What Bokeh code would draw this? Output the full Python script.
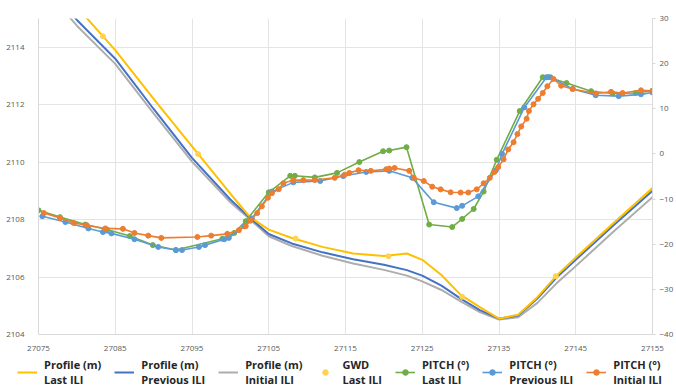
from bokeh.plotting import figure
from bokeh.layouts import column, row
from bokeh.models import Range1d, LinearAxis, Legend, LegendItem, FixedTicker
from bokeh.embed import file_html
from bokeh.resources import INLINE

# ---- data ----
prof_x = [27075, 27080, 27085, 27090, 27095, 27100, 27102.5, 27105, 27108, 27112, 27116,
          27120, 27123, 27125, 27127.5, 27130, 27132.5, 27135, 27137.5, 27140, 27142.5,
          27145, 27150, 27155]
prof_last = [2117.0, 2115.4, 2113.9, 2112.2, 2110.55, 2108.9, 2108.1, 2107.65, 2107.36, 2107.05,
             2106.82, 2106.73, 2106.82, 2106.6, 2106.07, 2105.38, 2104.95, 2104.55, 2104.69,
             2105.3, 2106.05, 2106.68, 2107.9, 2109.1]
prof_prev = [2116.6, 2114.95, 2113.6, 2111.85, 2110.15, 2108.7, 2108.07, 2107.5, 2107.17, 2106.86,
             2106.62, 2106.43, 2106.24, 2106.05, 2105.7, 2105.25, 2104.85, 2104.55, 2104.66,
             2105.25, 2105.98, 2106.6, 2107.82, 2109.0]
prof_init = [2116.3, 2114.75, 2113.42, 2111.7, 2110.02, 2108.6, 2108.02, 2107.42, 2107.08, 2106.74,
             2106.47, 2106.25, 2106.05, 2105.85, 2105.55, 2105.15, 2104.78, 2104.52, 2104.6,
             2105.1, 2105.78, 2106.38, 2107.6, 2108.78]

gwd_x = [27083.4, 27095.8, 27108.5, 27120.6, 27130.2, 27142.4]
gwd_y = [2114.38, 2110.28, 2107.34, 2106.72, 2105.31, 2106.03]

pitch_last_x = [27075.0, 27077.8, 27081.1, 27083.9, 27086.9, 27089.9, 27092.9, 27098.95, 27100.5,
                27102.0, 27105.0, 27107.8, 27108.4, 27111.0, 27113.9, 27116.8, 27119.9, 27120.7,
                27122.95, 27125.9, 27128.9, 27130.2, 27131.7, 27133.0, 27134.7, 27137.7, 27140.7,
                27141.4, 27143.8, 27147.0, 27149.8, 27152.8, 27155.0]
pitch_last = [-12.5, -14.0, -15.65, -16.75, -18.2, -20.2, -21.3, -18.8, -17.5,
              -14.9, -8.5, -4.85, -4.85, -5.2, -4.2, -1.8, 0.6, 0.75,
              1.5, -15.65, -16.2, -14.4, -12.2, -8.35, -1.3, 9.5, 17.0,
              17.0, 15.7, 13.9, 13.4, 13.5, 14.0]

pitch_prev_x = [27075.5, 27078.5, 27081.5, 27083.4, 27084.5, 27087.5, 27090.6, 27092.9, 27093.7,
                27095.9, 27096.7, 27099.2, 27099.8, 27101.8, 27102.8, 27105.4, 27108.2, 27111.7,
                27114.7, 27117.7, 27120.7, 27123.7, 27126.5, 27129.5, 27130.2, 27132.3, 27134.6,
                27135.4, 27138.3, 27141.2, 27141.7, 27144.6, 27147.6, 27150.6, 27153.5, 27155.0]
pitch_prev = [-13.8, -15.1, -16.5, -17.3, -17.6, -18.9, -20.6, -21.3, -21.3,
              -20.6, -20.2, -18.9, -18.6, -16.0, -14.3, -8.35, -6.3, -6.0,
              -4.9, -4.0, -3.75, -5.3, -10.7, -12.0, -11.5, -9.4, -3.6,
              0.0, 10.3, 17.0, 17.0, 14.4, 13.0, 12.8, 13.2, 13.6]

pitch_init_x = [27075.7, 27077.8, 27079.6, 27081.3, 27083.7, 27086.0, 27087.5, 27089.3, 27091.0,
                27095.7, 27097.5, 27099.6, 27101.1, 27102.0, 27102.6, 27103.5, 27104.1, 27104.9,
                27105.4, 27106.3, 27106.9, 27108.2, 27109.5, 27111.0, 27113.6, 27114.9, 27115.5,
                27116.7, 27118.3, 27120.3, 27120.7, 27121.4, 27123.3, 27123.9, 27125.2, 27126.3,
                27127.4, 27128.7, 27130.0, 27131.0, 27132.1, 27133.0, 27133.8, 27134.4, 27134.9,
                27135.6, 27136.2, 27136.9, 27137.4, 27137.9, 27138.6, 27138.9, 27139.5, 27140.1,
                27140.7, 27141.3, 27142.1, 27143.1, 27144.6, 27147.6, 27149.6, 27151.1, 27153.5,
                27155.0]
pitch_init = [-13.1, -14.2, -15.3, -15.8, -16.5, -16.6, -17.5, -18.1, -18.6,
              -18.4, -18.1, -17.7, -16.9, -16.0, -14.8, -13.1, -11.6, -9.7,
              -8.7, -7.8, -6.5, -5.8, -5.8, -5.8, -5.3, -4.6, -4.2,
              -3.6, -3.75, -3.4, -3.25, -3.1, -3.75, -5.3, -6.0, -7.25,
              -7.85, -8.5, -8.55, -8.55, -7.85, -6.5, -5.3, -4.0, -2.9,
              -1.2, 1.0, 2.6, 4.4, 6.1, 7.8, 9.5, 11.0, 12.2,
              13.5, 15.0, 16.6, 15.1, 14.4, 13.4, 13.75, 13.5, 14.1,
              14.0]

x_ticks = [27075, 27085, 27095, 27105, 27115, 27125, 27135, 27145, 27155]
left_ticks = [2104, 2106, 2108, 2110, 2112, 2114]
right_ticks = [-40, -30, -20, -10, 0, 10, 20, 30]

labels = ["Profile (m)\nLast ILI", "Profile (m)\nPrevious ILI", "Profile (m)\nInitial ILI",
          "GWD\nLast ILI", "PITCH (°)\nLast ILI", "PITCH (°)\nPrevious ILI", "PITCH (°)\nInitial ILI"]

# ---- styles ----
C_YEL = "#FFC000"
C_BLU = "#4472C4"
C_GRY = "#ADADAD"
C_GWD = "#FFD34F"
C_GRN = "#70AD47"
C_LBL = "#5B9BD5"
C_ORG = "#ED7D31"
FONT = "Open Sans"
TICK_COL = "#595959"
AX_COL = "#D9D9D9"
GRID_COL = "#E4E4E4"

p = figure(width=676, height=353, output_backend="svg", toolbar_location=None,
           x_range=Range1d(27075, 27155), y_range=Range1d(2104, 2115),
           min_border_left=38, min_border_right=20, min_border_top=18, min_border_bottom=15)
p.extra_y_ranges = {"pitch": Range1d(-40, 30)}
p.outline_line_color = None
p.background_fill_color = "white"

p.xaxis.ticker = FixedTicker(ticks=x_ticks)
p.yaxis.ticker = FixedTicker(ticks=left_ticks)
p.xgrid.ticker = FixedTicker(ticks=x_ticks)
p.ygrid.ticker = FixedTicker(ticks=left_ticks)
p.xgrid.grid_line_color = GRID_COL
p.ygrid.grid_line_color = GRID_COL

for ax in (p.xaxis[0], p.yaxis[0]):
    ax.axis_line_color = AX_COL
    ax.major_tick_line_color = None
    ax.minor_tick_line_color = None
    ax.major_label_text_font = FONT
    ax.major_label_text_font_size = "8px"
    ax.major_label_text_color = TICK_COL
p.yaxis[0].major_label_standoff = 8
p.xaxis[0].major_label_standoff = 5

right = LinearAxis(y_range_name="pitch", ticker=FixedTicker(ticks=right_ticks))
right.axis_line_color = AX_COL
right.major_tick_line_color = AX_COL
right.major_tick_out = 3
right.major_tick_in = 0
right.minor_tick_line_color = None
right.major_label_text_font = FONT
right.major_label_text_font_size = "8px"
right.major_label_text_color = TICK_COL
right.major_label_standoff = 4
p.add_layout(right, "right")

def draw_series(fig):
    rg = fig.line(prof_x, prof_init, line_color=C_GRY, line_width=2)
    rb = fig.line(prof_x, prof_prev, line_color=C_BLU, line_width=2)
    ry = fig.line(prof_x, prof_last, line_color=C_YEL, line_width=2)
    rw = fig.scatter(gwd_x, gwd_y, size=5, fill_color=C_GWD, line_color=C_GWD)
    gl = fig.line(pitch_last_x, pitch_last, line_color=C_GRN, line_width=1.6, y_range_name="pitch")
    gm = fig.scatter(pitch_last_x, pitch_last, size=5, fill_color=C_GRN, line_color=C_GRN, y_range_name="pitch")
    bl = fig.line(pitch_prev_x, pitch_prev, line_color=C_LBL, line_width=1.6, y_range_name="pitch")
    bm = fig.scatter(pitch_prev_x, pitch_prev, size=5, fill_color=C_LBL, line_color=C_LBL, y_range_name="pitch")
    ol = fig.line(pitch_init_x, pitch_init, line_color=C_ORG, line_width=1.6, y_range_name="pitch")
    om = fig.scatter(pitch_init_x, pitch_init, size=5, fill_color=C_ORG, line_color=C_ORG, y_range_name="pitch")
    return [[ry], [rb], [rg], [rw], [gl, gm], [bl, bm], [ol, om]]

draw_series(p)

# ---- legend strip: same series in a separate figure whose ranges show nothing ----
lg = figure(width=676, height=35, output_backend="svg", toolbar_location=None,
            x_axis_type=None, y_axis_type=None, x_range=Range1d(0, 1), y_range=Range1d(0, 1),
            min_border_left=0, min_border_right=0, min_border_top=0, min_border_bottom=0)
lg.extra_y_ranges = {"pitch": Range1d(1000, 1001)}
lg.outline_line_color = None
lg.xgrid.visible = False
lg.ygrid.visible = False
lg_renderers = draw_series(lg)

items = [LegendItem(label=lab, renderers=rs) for lab, rs in zip(labels, lg_renderers)]
legend = Legend(items=items, orientation="horizontal", location=(17, 1),
                label_text_font=FONT, label_text_font_size="11px", label_text_font_style="bold",
                label_text_color="#262626", label_text_line_height=1.42,
                glyph_width=20, glyph_height=14, label_standoff=7, spacing=13,
                padding=0, margin=0, border_line_color=None, background_fill_alpha=0)
lg.add_layout(legend, "center")

layout = column(p, row(lg), spacing=0)
open("out.html", "w").write(file_html(layout, INLINE))
